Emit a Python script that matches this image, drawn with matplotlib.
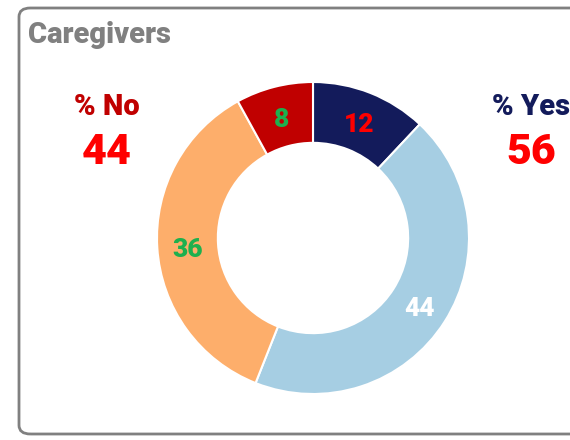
import matplotlib
matplotlib.use("Agg")
import matplotlib.pyplot as plt
from matplotlib.patches import FancyBboxPatch
from matplotlib.transforms import offset_copy

plt.rcParams['font.family'] = ['Roboto', 'DejaVu Sans']

title = "Caregivers"
slice_values = [12, 44, 36, 8]
slice_colors = ["#131B5B", "#A6CEE3", "#FDAE6B", "#C00000"]
label_colors = ["#FF0000", "#FFFFFF", "#1DB04E", "#1DB04E"]
no_label, no_value = "% No", 44
yes_label, yes_value = "% Yes", 56

W, H = 570, 440
FW = 900
fig = plt.figure(figsize=(W / 100, H / 100), dpi=100)

# rounded frame
box = FancyBboxPatch((19 / W, 6 / H), 600 / W, (438 - 6 - 6) / H,
                     boxstyle="round,pad=0,rounding_size=0.02",
                     transform=fig.transFigure, facecolor="none",
                     edgecolor="#808080", linewidth=2, clip_on=False,
                     zorder=-1)
fig.patches.append(box)

fig.text(28 / W, 1 - 43 / H, title, fontsize=21, fontweight=FW,
         color="#808080", ha="left", va="baseline")

cx, cy, r = 313, 238, 156
ax = fig.add_axes([(cx - r) / W, (H - cy - r) / H, 2 * r / W, 2 * r / H])
wedges, texts, autotexts = ax.pie(
    slice_values, colors=slice_colors, startangle=90, counterclock=False,
    radius=1, wedgeprops=dict(width=0.39, edgecolor="white", linewidth=1.5),
    autopct=lambda p: f"{p:.0f}", pctdistance=0.805,
    textprops=dict(fontsize=19, fontweight=FW))
for t, c in zip(autotexts, label_colors):
    t.set_color(c)
    t.set_transform(offset_copy(t.get_transform(), fig=fig, y=-4, units="dots"))
ax.set_xlim(-1, 1)
ax.set_ylim(-1, 1)
ax.set_aspect("equal")
ax.axis("off")

fig.text(107 / W, 1 - 115 / H, no_label, fontsize=21, fontweight=FW,
         color="#C00000", ha="center", va="baseline")
fig.text(107 / W, 1 - 164 / H, str(no_value), fontsize=31, fontweight=FW,
         color="#FF0000", ha="center", va="baseline")
fig.text(531 / W, 1 - 115 / H, yes_label, fontsize=21, fontweight=FW,
         color="#131B5B", ha="center", va="baseline")
fig.text(531 / W, 1 - 164 / H, str(yes_value), fontsize=31, fontweight=FW,
         color="#FF0000", ha="center", va="baseline")

fig.savefig("out.png", dpi=100)
